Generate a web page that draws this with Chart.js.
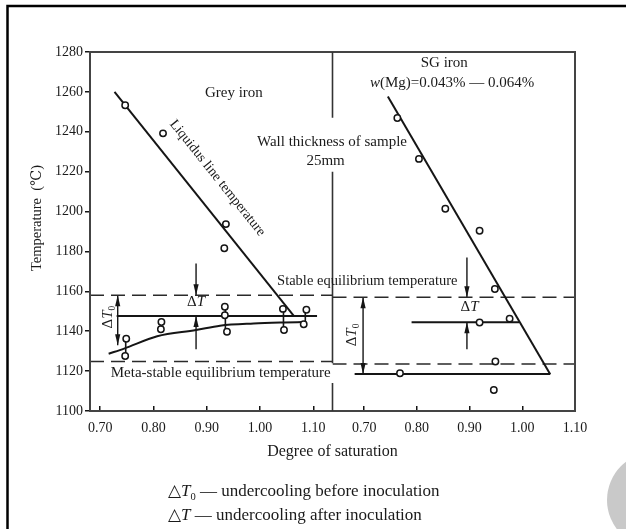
<!DOCTYPE html>
<html>
<head>
<meta charset="utf-8">
<script src="https://cdn.jsdelivr.net/npm/chart.js@4.4.0/dist/chart.umd.min.js"></script>
<style>
  html, body { margin: 0; padding: 0; background: #fff; }
  #wrap { width: 626px; height: 529px; position: relative; }
</style>
</head>
<body>
<div id="wrap"><canvas id="chart"></canvas></div>
<script>
// values
const satTicks = [0.70, 0.80, 0.90, 1.00, 1.10];
const tempTicks = [1100, 1120, 1140, 1160, 1180, 1200, 1220, 1240, 1260, 1280];

// grey iron (left half)
const greyLiqX = [0.727, 1.063];
const greyLiqT = [1260, 1147.8];
const greyLiqPtX = [0.747, 0.818, 0.936, 0.933];
const greyLiqPtT = [1253.3, 1239.2, 1193.7, 1181.6];
const greyPtX = [0.749, 0.747, 0.815, 0.814, 0.934, 0.934, 0.938, 1.043, 1.045, 1.087, 1.082];
const greyPtT = [1136.2, 1127.6, 1144.6, 1141.0, 1152.3, 1148.0, 1139.7, 1151.2, 1140.6, 1150.8, 1143.5];
const greyBarX = [0.748, 0.935, 1.044, 1.085];
const greyBarLo = [1127.6, 1139.7, 1140.6, 1143.5];
const greyBarHi = [1136.2, 1152.3, 1151.2, 1150.8];
const greyAfterX = [0.731, 1.107];
const greyAfterT = 1147.6;
const greyCurveX = [0.716, 0.745, 0.807, 0.880, 0.925, 0.988, 1.045, 1.082];
const greyCurveT = [1128.7, 1131.3, 1137.5, 1140.6, 1142.8, 1143.9, 1144.4, 1144.6];
const greyStableT = 1158;
const greyMetaT = 1124.8;

// SG iron (right half)
const sgLiqX = [0.745, 1.053];
const sgLiqT = [1257.7, 1118.4];
const sgPtX = [0.763, 0.804, 0.854, 0.919, 0.948, 0.976, 0.919, 0.949, 0.768, 0.946];
const sgPtT = [1246.9, 1226.4, 1201.4, 1190.4, 1161.2, 1146.3, 1144.4, 1124.8, 1118.9, 1110.5];
const sgBeforeX = [0.682, 1.053];
const sgBeforeT = 1118.5;
const sgAfterX = [0.790, 0.994];
const sgAfterT = 1144.5;
const sgStableT = 1157;
const sgMetaT = 1123.6;

// undercooling arrows: axis, x, from T, to T, heads
const arrows = [
  { axis: 'x1', x: 0.880, from: 1174, to: 1158, heads: 'end' },
  { axis: 'x1', x: 0.880, from: 1131, to: 1147.6, heads: 'end' },
  { axis: 'x1', x: 0.733, from: 1133, to: 1158, heads: 'both' },
  { axis: 'x2', x: 0.895, from: 1177, to: 1157, heads: 'end' },
  { axis: 'x2', x: 0.895, from: 1131, to: 1144.5, heads: 'end' },
  { axis: 'x2', x: 0.698, from: 1118.5, to: 1157, heads: 'both' }
];

// gaps in the middle divider (temperature ranges)
const dividerGaps = [[1220, 1247], [1114, 1124]];

const ink = '#151515';
const serif = '"Liberation Serif", "DejaVu Serif", serif';

function pts(xs, ys) {
  return xs.map((x, i) => ({ x, y: Array.isArray(ys) ? ys[i] : ys }));
}

function lineSet(axis, data, extra) {
  return Object.assign({
    xAxisID: axis, yAxisID: 'y', data, showLine: true,
    borderColor: ink, borderWidth: 2, pointRadius: 0, fill: false, tension: 0
  }, extra);
}

function dotSet(axis, data) {
  return {
    xAxisID: axis, yAxisID: 'y', data, showLine: false,
    pointRadius: 3.2, pointBorderWidth: 1.5,
    pointBorderColor: ink, pointBackgroundColor: '#fff'
  };
}

const dashed = { borderDash: [14, 7], borderWidth: 1.6, borderColor: '#2a2a2a' };

// vertical bars between paired points
const greyBars = [];
greyBarX.forEach((x, i) => {
  greyBars.push({ x, y: greyBarLo[i] }, { x, y: greyBarHi[i] }, { x, y: null });
});

const datasets = [
  dotSet('x1', pts(greyLiqPtX, greyLiqPtT)),
  dotSet('x1', pts(greyPtX, greyPtT)),
  dotSet('x2', pts(sgPtX, sgPtT)),
  lineSet('x1', greyBars, { borderWidth: 1.6 }),
  lineSet('x1', pts(greyLiqX, greyLiqT)),
  lineSet('x1', pts(greyAfterX, greyAfterT)),
  lineSet('x1', pts(greyCurveX, greyCurveT), { cubicInterpolationMode: 'monotone' }),
  lineSet('x1', pts([0.681, 1.136], greyStableT), dashed),
  lineSet('x1', pts([0.681, 1.136], greyMetaT), dashed),
  lineSet('x2', pts(sgLiqX, sgLiqT)),
  lineSet('x2', pts(sgBeforeX, sgBeforeT)),
  lineSet('x2', pts(sgAfterX, sgAfterT)),
  lineSet('x2', pts([0.64, 1.10], sgStableT), dashed),
  lineSet('x2', pts([0.64, 1.10], sgMetaT), dashed)
];
arrows.forEach(a => {
  datasets.push(lineSet(a.axis, pts([a.x, a.x], [a.from, a.to]), { borderWidth: 1.4 }));
});

// text placed in data coordinates
const notes = [
  { axis: 'x1', x: 0.951, y: 1259.5, size: 15, runs: [{ t: 'Grey iron' }] },
  { axis: 'x1', x: 0.920, y: 1216.8, size: 14, rotateAlong: 'greyLiq', runs: [{ t: 'Liquidus line temperature' }] },
  { axis: 'x1', x: 1.135, y: 1235, size: 15, runs: [{ t: 'Wall thickness of sample' }] },
  { axis: 'x1', x: 1.123, y: 1225.5, size: 15, runs: [{ t: '25mm' }] },
  { axis: 'x2', x: 0.852, y: 1274.4, size: 15, runs: [{ t: 'SG iron' }] },
  { axis: 'x2', x: 0.867, y: 1264.6, size: 15, runs: [{ t: 'w', italic: true }, { t: '(Mg)=0.043% \u2014 0.064%' }] },
  { axis: 'x1', x: 1.032, y: 1165.2, size: 14.5, align: 'left', runs: [{ t: 'Stable equilibrium temperature' }] },
  { axis: 'x1', x: 0.720, y: 1119.2, size: 15, align: 'left', runs: [{ t: 'Meta-stable equilibrium temperature' }] },
  { axis: 'x1', x: 0.880, y: 1154.8, size: 15, runs: [{ t: '\u0394' }, { t: 'T', italic: true }] },
  { axis: 'x2', x: 0.900, y: 1152, size: 15, runs: [{ t: '\u0394' }, { t: 'T', italic: true }] },
  { axis: 'x1', x: 0.714, y: 1147.1, size: 15, rotate: -90, runs: [{ t: '\u0394' }, { t: 'T', italic: true }, { t: '0', sub: true }] },
  { axis: 'x2', x: 0.678, y: 1138.1, size: 15, rotate: -90, runs: [{ t: '\u0394' }, { t: 'T', italic: true }, { t: '0', sub: true }] }
];

function drawRuns(ctx, runs, x, y, size, align, rotate) {
  const fontOf = r => (r.italic ? 'italic ' : '') + (r.sub ? size * 0.62 : size) + 'px ' + serif;
  ctx.save();
  ctx.translate(x, y);
  if (rotate) ctx.rotate(rotate * Math.PI / 180);
  let total = 0;
  runs.forEach(r => { ctx.font = fontOf(r); total += ctx.measureText(r.t).width; });
  let cx = align === 'left' ? 0 : -total / 2;
  ctx.textAlign = 'left';
  ctx.textBaseline = 'middle';
  ctx.fillStyle = '#1a1a1a';
  runs.forEach(r => {
    ctx.font = fontOf(r);
    ctx.fillText(r.t, cx, r.sub ? size * 0.3 : 0);
    cx += ctx.measureText(r.t).width;
  });
  ctx.restore();
}

function arrowHead(ctx, px, py, dir) {
  // dir 1: pointing down, -1: pointing up
  const len = 11, hw = 2.6;
  ctx.beginPath();
  ctx.moveTo(px, py);
  ctx.lineTo(px - hw, py - dir * len);
  ctx.lineTo(px + hw, py - dir * len);
  ctx.closePath();
  ctx.fill();
}

const decor = {
  id: 'decor',
  afterDraw(chart) {
    const ctx = chart.ctx;
    const a = chart.chartArea;
    const ys = chart.scales.y;
    ctx.save();

    // plot frame
    ctx.strokeStyle = '#444';
    ctx.lineWidth = 2;
    ctx.strokeRect(a.left, a.top, a.right - a.left, a.bottom - a.top);

    // divider between the two halves
    const dx = chart.scales.x1.right;
    let yTop = a.top;
    ctx.strokeStyle = '#333';
    ctx.lineWidth = 1.6;
    ctx.beginPath();
    dividerGaps.slice().sort((p, q) => q[1] - p[1]).forEach(g => {
      ctx.moveTo(dx, yTop);
      ctx.lineTo(dx, ys.getPixelForValue(g[1]));
      yTop = ys.getPixelForValue(g[0]);
    });
    ctx.moveTo(dx, yTop);
    ctx.lineTo(dx, a.bottom);
    ctx.stroke();

    // arrow heads
    ctx.fillStyle = ink;
    arrows.forEach(ar => {
      const xs = chart.scales[ar.axis];
      const px = xs.getPixelForValue(ar.x);
      const pFrom = ys.getPixelForValue(ar.from);
      const pTo = ys.getPixelForValue(ar.to);
      const dir = pTo > pFrom ? 1 : -1;
      arrowHead(ctx, px, pTo, dir);
      if (ar.heads === 'both') arrowHead(ctx, px, pFrom, -dir);
    });

    // annotations
    notes.forEach(n => {
      const xs = chart.scales[n.axis];
      let rot = n.rotate || 0;
      if (n.rotateAlong === 'greyLiq') {
        const x0 = xs.getPixelForValue(greyLiqX[0]), y0 = ys.getPixelForValue(greyLiqT[0]);
        const x1 = xs.getPixelForValue(greyLiqX[1]), y1 = ys.getPixelForValue(greyLiqT[1]);
        rot = Math.atan2(y1 - y0, x1 - x0) * 180 / Math.PI;
      }
      drawRuns(ctx, n.runs, xs.getPixelForValue(n.x), ys.getPixelForValue(n.y), n.size, n.align, rot);
    });

    // axis titles and caption
    drawRuns(ctx, [{ t: 'Temperature\u2002(\u2103)' }], 37, 218, 14.5, 'center', -90);
    drawRuns(ctx, [{ t: 'Degree of saturation' }], (a.left + a.right) / 2, 452, 16, 'center');
    drawRuns(ctx, [{ t: '\u25B3' }, { t: 'T', italic: true }, { t: '0', sub: true }, { t: ' \u2014 undercooling before inoculation' }], 168, 492, 17, 'left');
    drawRuns(ctx, [{ t: '\u25B3' }, { t: 'T', italic: true }, { t: ' \u2014 undercooling after inoculation' }], 168, 516, 17, 'left');

    // outer figure frame and the grey disc in the corner
    ctx.strokeStyle = '#000';
    ctx.lineWidth = 2.5;
    ctx.beginPath();
    ctx.moveTo(7.5, chart.height);
    ctx.lineTo(7.5, 6);
    ctx.lineTo(chart.width, 6);
    ctx.stroke();
    ctx.fillStyle = '#c9c9c9';
    ctx.beginPath();
    ctx.arc(655, 500, 48, 0, Math.PI * 2);
    ctx.fill();

    ctx.restore();
  }
};

const tickFont = { family: serif, size: 14 };

function satAxis(min, max) {
  return {
    type: 'linear', position: 'bottom', stack: 'sat', stackWeight: 1,
    min, max,
    afterBuildTicks: s => { s.ticks = satTicks.map(v => ({ value: v })); },
    afterFit: s => { s.height = 118; },
    ticks: {
      callback: v => v.toFixed(2), autoSkip: false, maxRotation: 0,
      padding: 14, font: tickFont, color: '#1a1a1a'
    },
    grid: { drawOnChartArea: false, tickLength: -5, color: ink, lineWidth: 1.5 },
    border: { color: '#444', width: 2 }
  };
}

new Chart(document.getElementById('chart'), {
  type: 'scatter',
  data: { datasets },
  options: {
    responsive: true,
    maintainAspectRatio: false,
    animation: false,
    layout: { padding: { top: 52, right: 51, left: 0, bottom: 0 } },
    plugins: { legend: { display: false }, tooltip: { enabled: false } },
    scales: {
      x1: satAxis(0.681, 1.136),
      x2: satAxis(0.64, 1.10),
      y: {
        type: 'linear', position: 'left', min: 1100, max: 1280,
        afterBuildTicks: s => { s.ticks = tempTicks.map(v => ({ value: v })); },
        afterFit: s => { s.width = 90; },
        ticks: { padding: 2, font: tickFont, color: '#1a1a1a', callback: v => String(v) },
        grid: { drawOnChartArea: false, tickLength: 5, color: ink, lineWidth: 1.5 },
        border: { color: '#444', width: 2 }
      }
    }
  },
  plugins: [decor]
});
</script>
</body>
</html>
